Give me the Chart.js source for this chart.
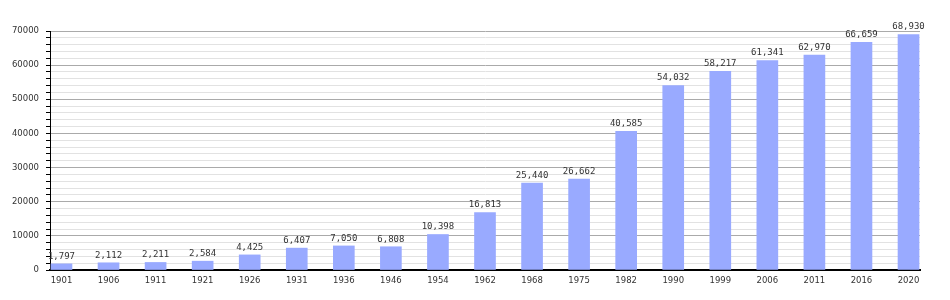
<!DOCTYPE html>
<html><head><meta charset="utf-8">
<script src="https://cdn.jsdelivr.net/npm/chart.js@4/dist/chart.umd.min.js"></script>
<style>html,body{margin:0;padding:0;background:#fff}#wrap{width:950px;height:300px}</style>
</head><body><div id="wrap"><canvas id="c" width="950" height="300"></canvas></div>
<script>
const years = ["1901","1906","1911","1921","1926","1931","1936","1946","1954","1962","1968","1975","1982","1990","1999","2006","2011","2016","2020"];
const population = [1797,2112,2211,2584,4425,6407,7050,6808,10398,16813,25440,26662,40585,54032,58217,61341,62970,66659,68930];
const yTicks = [0,10000,20000,30000,40000,50000,60000,70000];

const valueLabels = {
  id: 'valueLabels',
  afterDatasetsDraw(chart) {
    const ctx = chart.ctx;
    const meta = chart.getDatasetMeta(0);
    ctx.save();
    ctx.font = '9px "DejaVu Sans Mono"';
    ctx.fillStyle = '#333';
    ctx.textAlign = 'center';
    ctx.textBaseline = 'bottom';
    meta.data.forEach((bar, i) => {
      ctx.fillText(population[i].toLocaleString('en-US'), bar.x, bar.y - 3);
    });
    ctx.restore();
  }
};

new Chart(document.getElementById('c'), {
  type: 'bar',
  data: {
    datasets: [{
      data: population.map((v, i) => ({x: i, y: v})),
      backgroundColor: '#99aaff',
      barThickness: 21
    }]
  },
  options: {
    responsive: false,
    animation: false,
    layout: {padding: {left: 0, right: 30, top: 31, bottom: 0}},
    plugins: {legend: {display: false}, tooltip: {enabled: false}},
    scales: {
      x: {
        type: 'linear',
        offset: false,
        min: -0.244, max: 18.244,
        afterBuildTicks: s => { s.ticks = years.map((_, i) => ({value: i})); },
        afterFit: s => { s.height = 30; },
        ticks: {
          autoSkip: false, maxRotation: 0, padding: 6,
          font: {family: '"DejaVu Sans"', size: 8.5}, color: '#333',
          callback: v => years[v]
        },
        grid: {display: false, drawTicks: false},
        border: {color: '#000', width: 2}
      },
      y: {
        min: 0, max: 70000,
        afterBuildTicks: s => { const t = []; for (let v = 0; v <= 70000; v += 2000) t.push({value: v}); s.ticks = t; },
        afterFit: s => { s.width = 50; },
        ticks: {
          autoSkip: false, padding: 7,
          font: {family: '"DejaVu Sans"', size: 8.5}, color: '#333',
          callback: v => (yTicks.includes(v) ? String(v) : '')
        },
        grid: {
          tickLength: 4,
          color: c => (c.tick && c.tick.value % 10000 === 0 ? '#aaaaaa' : '#e2e2e2'),
          tickColor: '#000'
        },
        border: {color: '#000', width: 1}
      }
    }
  },
  plugins: [valueLabels]
});
</script></body></html>
